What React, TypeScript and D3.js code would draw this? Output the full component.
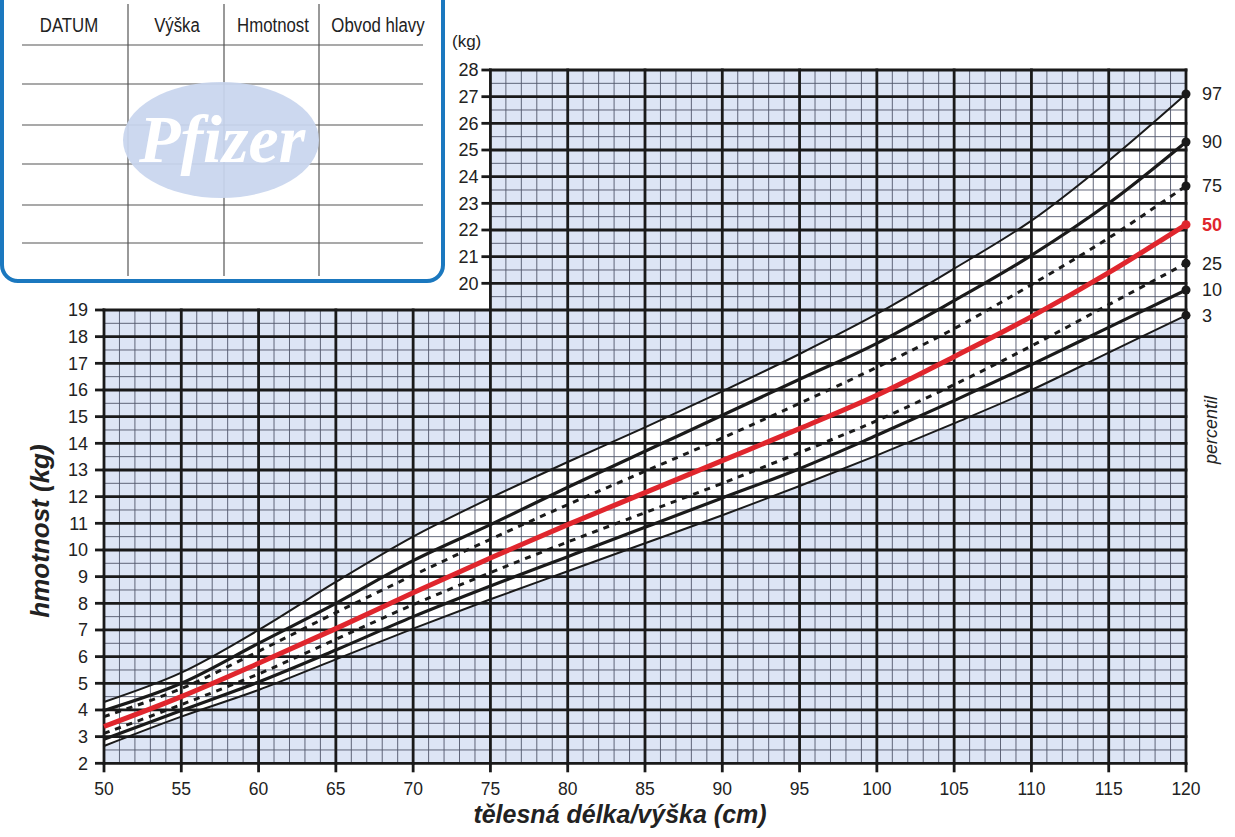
import React from "react";
import * as d3 from "d3";

const lengths = [50, 55, 60, 65, 70, 75, 80, 85, 90, 95, 100, 105, 110, 115, 120];
const p97 = [4.3, 5.4, 7.0, 8.8, 10.5, 11.95, 13.3, 14.6, 15.95, 17.35, 18.85, 20.55, 22.35, 24.6, 27.1];
const p90 = [3.98, 5.0, 6.5, 8.0, 9.6, 10.95, 12.35, 13.7, 15.05, 16.4, 17.75, 19.35, 21.05, 23.0, 25.3];
const p75 = [3.75, 4.8, 6.2, 7.65, 9.05, 10.4, 11.7, 12.95, 14.2, 15.5, 16.85, 18.3, 19.95, 21.7, 23.65];
const p50 = [3.38, 4.5, 5.75, 7.05, 8.4, 9.7, 10.95, 12.15, 13.35, 14.55, 15.8, 17.25, 18.75, 20.4, 22.2];
const p25 = [3.12, 4.2, 5.35, 6.65, 7.95, 9.15, 10.3, 11.4, 12.5, 13.65, 14.85, 16.2, 17.65, 19.2, 20.75];
const p10 = [2.9, 3.98, 5.05, 6.25, 7.5, 8.65, 9.75, 10.85, 11.95, 13.05, 14.3, 15.6, 16.95, 18.35, 19.75];
const p3 = [2.65, 3.75, 4.75, 5.9, 7.05, 8.15, 9.2, 10.25, 11.3, 12.4, 13.55, 14.75, 16.0, 17.4, 18.8];

const xTicks = [50, 55, 60, 65, 70, 75, 80, 85, 90, 95, 100, 105, 110, 115, 120];
const yTicksLow = [2, 3, 4, 5, 6, 7, 8, 9, 10, 11, 12, 13, 14, 15, 16, 17, 18, 19];
const yTicksHigh = [20, 21, 22, 23, 24, 25, 26, 27, 28];
const tableHeaders = ["DATUM", "Výška", "Hmotnost", "Obvod hlavy"];

const series = [
  { name: "97", values: p97, kind: "thin" },
  { name: "90", values: p90, kind: "thick" },
  { name: "75", values: p75, kind: "dash" },
  { name: "50", values: p50, kind: "red" },
  { name: "25", values: p25, kind: "dash" },
  { name: "10", values: p10, kind: "thick" },
  { name: "3", values: p3, kind: "thin" },
];

const FONT = "'Liberation Sans', Arial, Helvetica, sans-serif";
const BLUE_BG = "#dde5f5";
const RED = "#e0262d";
const MAJOR = "#1a1a1a";
const MINOR = "#50566a";

export default function App() {
  const x = d3.scaleLinear().domain([50, 120]).range([104, 1186]);
  const y = d3.scaleLinear().domain([2, 28]).range([763.3, 70]);
  const xSplit = 75;
  const ySplit = 19;

  const pts = (vals: number[]) => lengths.map((l, i) => [l, vals[i]] as [number, number]);
  const line = d3
    .line<[number, number]>()
    .x((d) => x(d[0]))
    .y((d) => y(d[1]))
    .curve(d3.curveCatmullRom.alpha(0.5));
  const area = d3
    .area<number>()
    .x((d, i) => x(lengths[i]))
    .y0((d, i) => y(p3[i]))
    .y1((d, i) => y(p97[i]))
    .curve(d3.curveCatmullRom.alpha(0.5));

  const cms = d3.range(50, 121, 1);
  const kgs = d3.range(2, 28.01, 0.5);
  const minorV = cms.filter((c) => c % 5 !== 0);
  const majorV = cms.filter((c) => c % 5 === 0);
  const minorH = kgs.filter((k) => !Number.isInteger(k));
  const majorH = kgs.filter((k) => Number.isInteger(k));
  const vTop = (c: number) => (c >= xSplit ? 28 : ySplit);
  const hLeft = (k: number) => (k > ySplit ? xSplit : 50);

  const tableCols = [128, 224, 319];
  const tableRows = [45, 84, 125, 164, 205, 243];
  const headerX = [69, 177, 273, 378];

  return (
    <svg
      width={1235}
      height={837}
      style={{ position: "absolute", left: 0, top: 0, background: "#fff" }}
    >
      {/* table box */}
      <g>
        <rect x={2} y={-30} width={441} height={311} rx={16} fill="#fff" stroke="#1b78bf" strokeWidth={4} />
        {tableRows.map((r) => (
          <line key={"tr" + r} x1={22} x2={423} y1={r} y2={r} stroke="#555" strokeWidth={1.2} />
        ))}
        {tableCols.map((c) => (
          <line key={"tc" + c} x1={c} x2={c} y1={4} y2={276} stroke="#555" strokeWidth={1.2} />
        ))}
        <ellipse cx={221} cy={140} rx={98} ry={58} fill="#c8d5ee" opacity={0.93} />
        <text
          x={222}
          y={162}
          textAnchor="middle"
          fontFamily="'Liberation Serif', 'DejaVu Serif', serif"
          fontStyle="italic"
          fontWeight="bold"
          fontSize={68}
          fill="#fff"
        >
          Pfizer
        </text>
        {tableHeaders.map((h, i) => (
          <text
            key={h}
            transform={`translate(${headerX[i]},32) scale(0.8,1)`}
            textAnchor="middle"
            fontFamily={FONT}
            fontSize={21}
            fill="#222"
          >
            {h}
          </text>
        ))}
      </g>

      {/* backgrounds */}
      <rect x={x(50)} y={y(ySplit)} width={x(120) - x(50)} height={y(2) - y(ySplit)} fill={BLUE_BG} />
      <rect x={x(xSplit)} y={y(28)} width={x(120) - x(xSplit)} height={y(ySplit) - y(28)} fill={BLUE_BG} />
      <path d={area(p3) || ""} fill="#fff" />

      {/* grid */}
      <g stroke={MINOR} strokeWidth={0.9}>
        {minorV.map((c) => (
          <line key={"mv" + c} x1={x(c)} x2={x(c)} y1={y(2)} y2={y(vTop(c))} />
        ))}
        {minorH.map((k) => (
          <line key={"mh" + k} x1={x(hLeft(k))} x2={x(120)} y1={y(k)} y2={y(k)} />
        ))}
      </g>
      <g stroke={MAJOR} strokeWidth={2.8}>
        {majorH.map((k) => (
          <line key={"Mh" + k} x1={x(hLeft(k)) - 1.4} x2={x(120) + 1.4} y1={y(k)} y2={y(k)} />
        ))}
        {majorV.map((c) => (
          <line key={"Mv" + c} x1={x(c)} x2={x(c)} y1={y(2) + 1.4} y2={y(vTop(c)) - 1.4} />
        ))}
      </g>

      {/* axis ticks */}
      {yTicksLow.map((t) => (
        <g key={"yl" + t}>
          <line x1={x(50) - 9} x2={x(50)} y1={y(t)} y2={y(t)} stroke={MAJOR} strokeWidth={2.8} />
          <text x={x(50) - 16} y={y(t)} dy="0.36em" textAnchor="end" fontFamily={FONT} fontSize={18} fill="#222">
            {t}
          </text>
        </g>
      ))}
      {yTicksHigh.map((t) => (
        <g key={"yh" + t}>
          <line x1={x(xSplit) - 9} x2={x(xSplit)} y1={y(t)} y2={y(t)} stroke={MAJOR} strokeWidth={2.8} />
          <text x={x(xSplit) - 12} y={y(t)} dy="0.36em" textAnchor="end" fontFamily={FONT} fontSize={18} fill="#222">
            {t}
          </text>
        </g>
      ))}
      {xTicks.map((t) => (
        <g key={"x" + t}>
          <line x1={x(t)} x2={x(t)} y1={y(2)} y2={y(2) + 9} stroke={MAJOR} strokeWidth={2.8} />
          <text x={x(t)} y={y(2) + 32} textAnchor="middle" fontFamily={FONT} fontSize={17.5} fill="#222">
            {t}
          </text>
        </g>
      ))}
      <text x={452} y={47} fontFamily={FONT} fontSize={17} fill="#222">
        (kg)
      </text>

      {/* curves */}
      {series.map((s) => {
        const d = line(pts(s.values)) || "";
        if (s.kind === "red")
          return <path key={s.name} d={d} fill="none" stroke={RED} strokeWidth={5} />;
        if (s.kind === "dash")
          return (
            <path key={s.name} d={d} fill="none" stroke={MAJOR} strokeWidth={3} strokeDasharray="6 6" />
          );
        return (
          <path
            key={s.name}
            d={d}
            fill="none"
            stroke={MAJOR}
            strokeWidth={s.kind === "thick" ? 3.2 : 2}
          />
        );
      })}

      {/* end dots & labels */}
      {series.map((s) => {
        const v = s.values[s.values.length - 1];
        const isRed = s.kind === "red";
        return (
          <g key={"lab" + s.name}>
            <circle cx={x(120)} cy={y(v)} r={4.5} fill={isRed ? RED : MAJOR} />
            <text
              x={1202}
              y={y(v)}
              dy="0.36em"
              fontFamily={FONT}
              fontSize={18}
              fontWeight={isRed ? "bold" : "normal"}
              fill={isRed ? RED : "#222"}
            >
              {s.name}
            </text>
          </g>
        );
      })}

      <text
        transform="translate(1217,430) rotate(-90)"
        textAnchor="middle"
        fontFamily={FONT}
        fontStyle="italic"
        fontSize={18}
        fill="#222"
      >
        percentil
      </text>

      {/* titles */}
      <text
        x={620}
        y={823}
        textAnchor="middle"
        fontFamily={FONT}
        fontStyle="italic"
        fontWeight="bold"
        fontSize={25}
        fill="#222"
      >
        tělesná délka/výška (cm)
      </text>
      <text
        transform="translate(49,531) rotate(-90)"
        textAnchor="middle"
        fontFamily={FONT}
        fontStyle="italic"
        fontWeight="bold"
        fontSize={26}
        fill="#222"
      >
        hmotnost (kg)
      </text>
    </svg>
  );
}
